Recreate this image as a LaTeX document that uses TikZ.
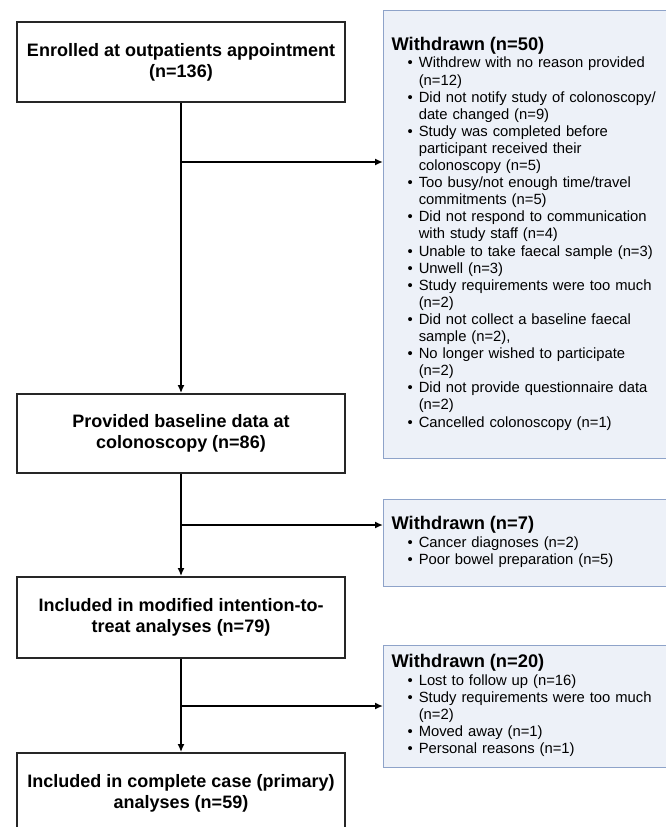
\documentclass[tikz,border=0pt]{standalone}
\usepackage{fontspec}
\setmainfont{Liberation Sans}
\usetikzlibrary{arrows.meta}
\definecolor{boxblue}{HTML}{EDF1F8}
\definecolor{edgeblue}{HTML}{8EA3C9}
\newcommand{\wtitle}[1]{{\fontsize{18.3}{20}\selectfont\bfseries #1}\\[1pt]}

\begin{document}
\begin{tikzpicture}[x=1pt,y=-1pt,line width=1.8pt,
	stage/.style={draw=black!85,minimum width=328pt,minimum height=80pt,inner sep=4pt,align=center,font=\fontsize{18}{21}\selectfont\bfseries},
	excl/.style={draw=edgeblue,fill=boxblue,line width=1.2pt,text width=270pt,inner xsep=8pt,inner ysep=0pt,align=left,anchor=north west,font=\fontsize{14.8}{17.1}\selectfont},
	flow/.style={-{Latex[length=8pt,width=7pt]}}]
	\useasboundingbox (0,0) rectangle (665,827);
	\node[stage] (enr) at (181,62) {Enrolled at outpatients appointment\\(n=136)};
	\node[stage,minimum height=79pt] (base) at (181,433.5) {Provided baseline data at\\colonoscopy (n=86)};
	\node[stage,minimum height=81pt] (itt) at (181,617.5) {Included in modified intention-to-\\treat analyses (n=79)};
	\node[stage] (cc) at (181,793) {Included in complete case (primary)\\analyses (n=59)};
	\node[excl,minimum height=448pt] (w1) at (383,10) {\wtitle{Withdrawn (n=50)}
		\begin{tabular}{@{\hspace{16pt}}l@{\hspace{6pt}}l@{}}
		\textbullet & Withdrew with no reason provided\\
		& (n=12)\\
		\textbullet & Did not notify study of colonoscopy/\\
		& date changed (n=9)\\
		\textbullet & Study was completed before\\
		& participant received their\\
		& colonoscopy (n=5)\\
		\textbullet & Too busy/not enough time/travel\\
		& commitments (n=5)\\
		\textbullet & Did not respond to communication\\
		& with study staff (n=4)\\
		\textbullet & Unable to take faecal sample (n=3)\\
		\textbullet & Unwell (n=3)\\
		\textbullet & Study requirements were too much\\
		& (n=2)\\
		\textbullet & Did not collect a baseline faecal\\
		& sample (n=2),\\
		\textbullet & No longer wished to participate\\
		& (n=2)\\
		\textbullet & Did not provide questionnaire data\\
		& (n=2)\\
		\textbullet & Cancelled colonoscopy (n=1)
		\end{tabular}};
	\node[excl,minimum height=87pt] (w2) at (383,499) {\wtitle{Withdrawn (n=7)}
		\begin{tabular}{@{\hspace{16pt}}l@{\hspace{6pt}}l@{}}
		\textbullet & Cancer diagnoses (n=2)\\
		\textbullet & Poor bowel preparation (n=5)
		\end{tabular}};
	\node[excl,minimum height=122pt] (w3) at (383,645) {\wtitle{Withdrawn (n=20)}
		\begin{tabular}{@{\hspace{16pt}}l@{\hspace{6pt}}l@{}}
		\textbullet & Lost to follow up (n=16)\\
		\textbullet & Study requirements were too much\\
		& (n=2)\\
		\textbullet & Moved away (n=1)\\
		\textbullet & Personal reasons (n=1)
		\end{tabular}};
	\coordinate (j1) at (181,162);
	\coordinate (j2) at (181,525);
	\coordinate (j3) at (181,706);
	\draw[flow] (enr) -- (base);
	\draw[flow] (base) -- (itt);
	\draw[flow] (itt) -- (cc);
	\draw[flow] (j1) -- (j1 -| w1.west);
	\draw[flow] (j2) -- (j2 -| w2.west);
	\draw[flow] (j3) -- (j3 -| w3.west);
\end{tikzpicture}
\end{document}
